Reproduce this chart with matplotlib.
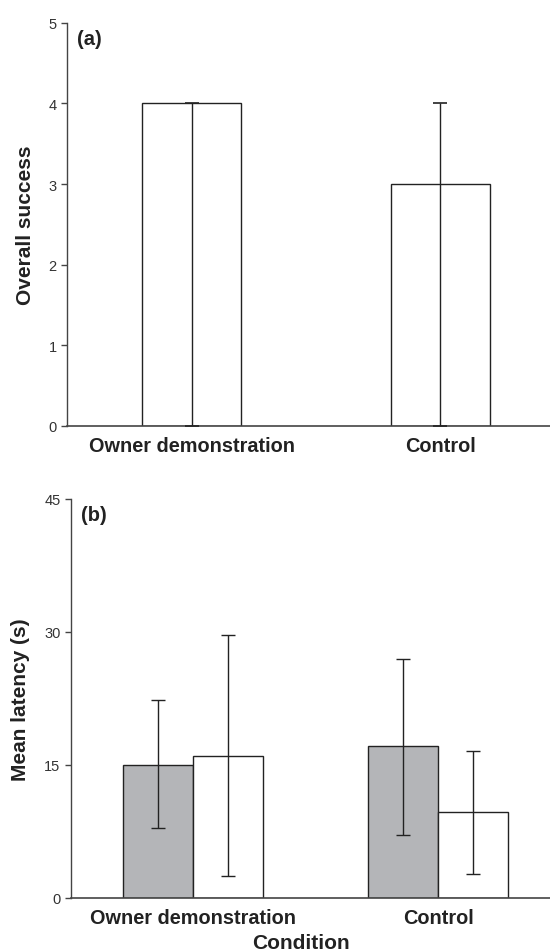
import matplotlib

matplotlib.use("Agg")
import matplotlib.pyplot as plt
import numpy as np

plt.rcParams["font.family"] = ["Liberation Sans", "DejaVu Sans"]

# Panel (a): overall success (median with range)
conditions = ["Owner demonstration", "Control"]
success = [4, 3]
success_low = [0, 0]
success_high = [4, 4]

# Panel (b): mean latency, two series per condition
latency_grey = [15.0, 17.1]
latency_grey_low = [7.9, 7.1]
latency_grey_high = [22.3, 26.9]
latency_white = [16.0, 9.7]
latency_white_low = [2.5, 2.7]
latency_white_high = [29.6, 16.6]

GREY = "#b4b5b8"
INK = "#222222"

fig = plt.figure(figsize=(5.5, 9.53), dpi=100)
ax_a = fig.add_axes([0.122, 0.552, 0.878, 0.423])
ax_b = fig.add_axes([0.129, 0.0567, 0.871, 0.4187])

x = np.arange(len(conditions))


def style_axes(ax):
    for side in ("top", "right"):
        ax.spines[side].set_visible(False)
    ax.spines["left"].set_color("#444444")
    ax.spines["bottom"].set_color("#444444")
    ax.spines["left"].set_linewidth(1.0)
    ax.spines["bottom"].set_linewidth(1.2)
    ax.tick_params(axis="y", direction="out", length=4, width=1.0,
                   labelsize=10.5, labelcolor="#333333", color="#444444")
    ax.tick_params(axis="x", length=0, labelsize=14.3, pad=7)
    for lbl in ax.get_xticklabels():
        lbl.set_fontweight("bold")
        lbl.set_color(INK)


# --- (a) -------------------------------------------------------------------
ax_a.bar(x, success, width=0.40, color="white", edgecolor=INK, linewidth=1.0, zorder=2)
yerr_a = [np.subtract(success, success_low), np.subtract(success_high, success)]
ax_a.errorbar(x, success, yerr=yerr_a, fmt="none", ecolor=INK, elinewidth=1.0,
              capsize=5, capthick=1.2, zorder=3)
ax_a.set_xlim(-0.5, 1.44)
ax_a.set_ylim(0, 5)
ax_a.set_yticks(range(0, 6))
ax_a.set_xticks(x)
ax_a.set_xticklabels(conditions)
ax_a.set_ylabel("Overall success", fontsize=15, fontweight="bold", color=INK, labelpad=10)
ax_a.text(0.02, 0.985, "(a)", transform=ax_a.transAxes, fontsize=14.5,
          fontweight="bold", color=INK, va="top")
style_axes(ax_a)

# --- (b) -------------------------------------------------------------------
w = 0.286
ax_b.bar(x - w / 2, latency_grey, width=w, color=GREY, edgecolor=INK, linewidth=1.0, zorder=2)
ax_b.bar(x + w / 2, latency_white, width=w, color="white", edgecolor=INK, linewidth=1.0, zorder=2)
ax_b.errorbar(x - w / 2, latency_grey,
              yerr=[np.subtract(latency_grey, latency_grey_low),
                    np.subtract(latency_grey_high, latency_grey)],
              fmt="none", ecolor=INK, elinewidth=1.0, capsize=5, capthick=1.0, zorder=3)
ax_b.errorbar(x + w / 2, latency_white,
              yerr=[np.subtract(latency_white, latency_white_low),
                    np.subtract(latency_white_high, latency_white)],
              fmt="none", ecolor=INK, elinewidth=1.0, capsize=5, capthick=1.0, zorder=3)
ax_b.set_xlim(-0.5, 1.457)
ax_b.set_ylim(0, 45)
ax_b.set_yticks([0, 15, 30, 45])
ax_b.set_xticks(x)
ax_b.set_xticklabels(conditions)
ax_b.set_ylabel("Mean latency (s)", fontsize=15, fontweight="bold", color=INK, labelpad=10)
ax_b.set_xlabel("Condition", fontsize=15, fontweight="bold", color=INK)
ax_b.xaxis.set_label_coords(0.48, -0.088)
ax_b.text(0.022, 0.985, "(b)", transform=ax_b.transAxes, fontsize=14.5,
          fontweight="bold", color=INK, va="top")
style_axes(ax_b)

fig.savefig("out.png", dpi=100, facecolor="white")
